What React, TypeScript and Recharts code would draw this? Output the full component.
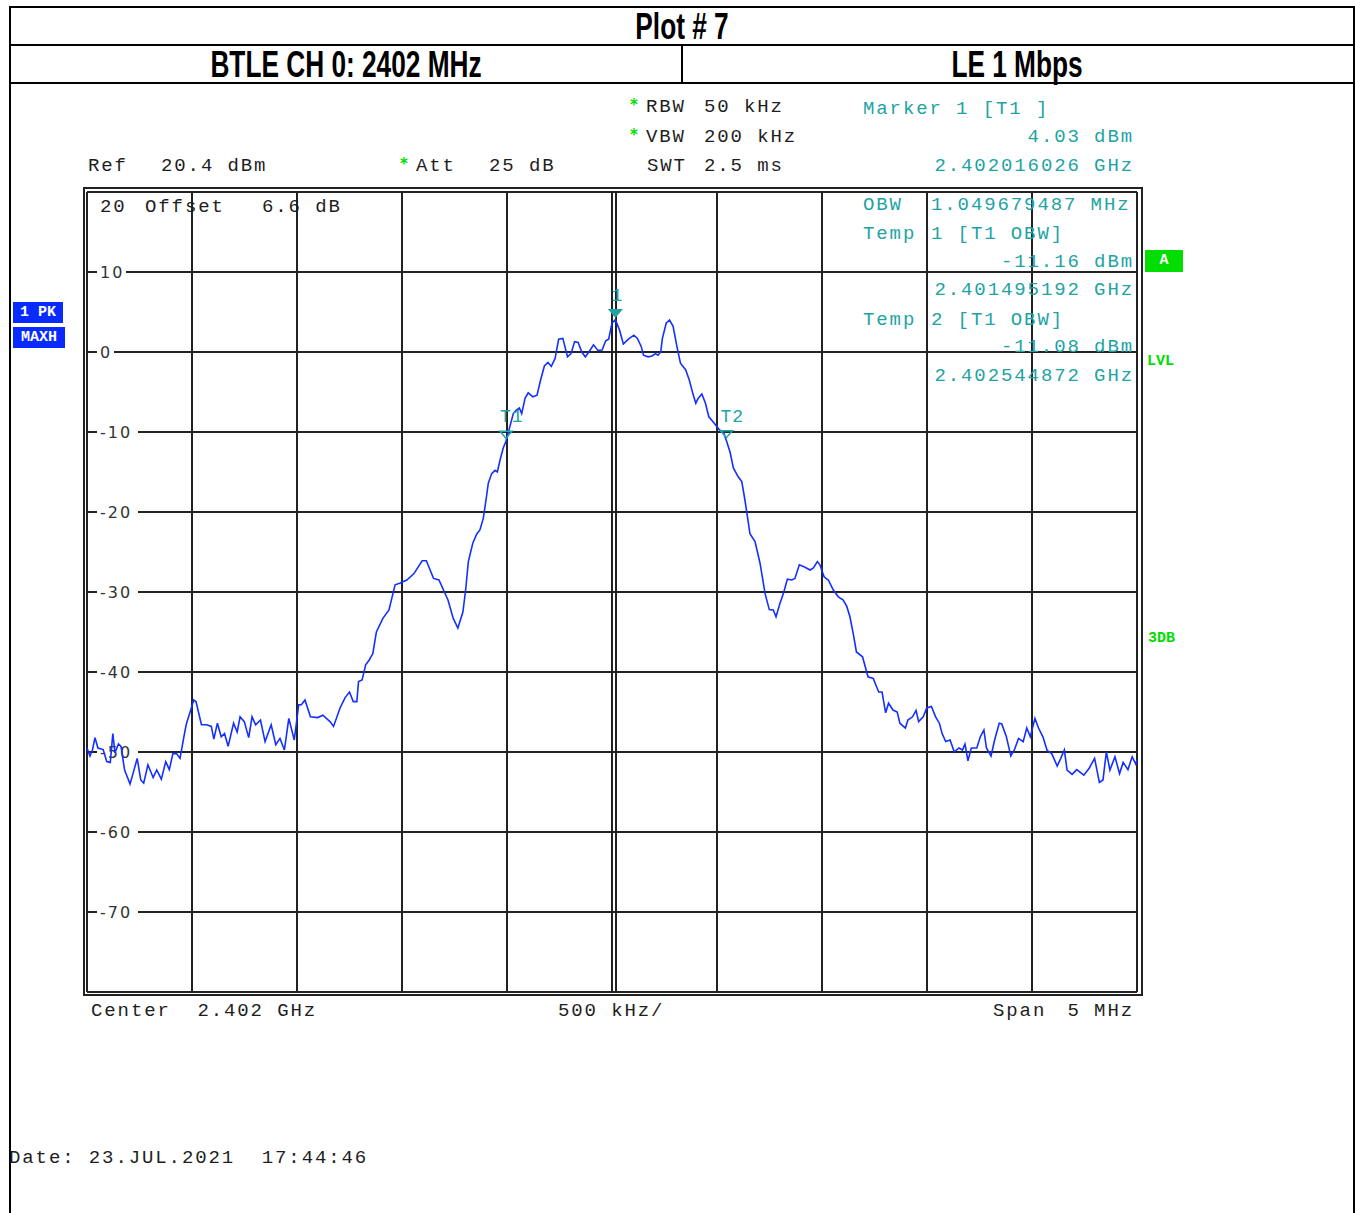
import React from "react";
import { LineChart, Line, XAxis, YAxis, CartesianGrid, ReferenceDot } from "recharts";

// sweep: start frequency and span (MHz)
const START_MHZ = 2399.5;
const STOP_MHZ = 2404.5;

// trace points: offset from start (kHz) and level (dBm)
const OFFSET_KHZ = [
  0, 14, 26, 38, 52, 77, 94, 111, 123, 133,
  150, 162, 179, 205, 219, 239, 256, 270, 290, 315,
  332, 354, 375, 392, 409, 426, 443, 460, 473, 494,
  508, 519, 545, 570, 592, 604, 621, 639, 655, 672,
  698, 715, 729, 749, 770, 786, 803, 826, 848, 877,
  899, 919, 940, 961, 987, 1008, 1021, 1038, 1064, 1098,
  1123, 1157, 1174, 1205, 1229, 1250, 1268, 1285, 1293, 1310,
  1327, 1344, 1361, 1378, 1409, 1438, 1467, 1489, 1523, 1557,
  1596, 1616, 1650, 1676, 1719, 1744, 1766, 1790, 1803, 1816,
  1837, 1856, 1871, 1887, 1900, 1911, 1927, 1943, 1954, 1967,
  1982, 1995, 2014, 2030, 2043, 2059, 2070, 2086, 2101, 2123,
  2143, 2160, 2178, 2195, 2211, 2229, 2246, 2266, 2288, 2305,
  2322, 2339, 2356, 2373, 2390, 2412, 2433, 2453, 2470, 2484,
  2500, 2516, 2536, 2554, 2578, 2604, 2621, 2639, 2650, 2672,
  2690, 2707, 2719, 2732, 2740, 2758, 2774, 2791, 2809, 2826,
  2851, 2868, 2885, 2899, 2910, 2928, 2945, 2961, 2987, 3012,
  3030, 3045, 3062, 3078, 3101, 3118, 3133, 3157, 3181, 3205,
  3229, 3249, 3268, 3281, 3300, 3316, 3335, 3356, 3371, 3392,
  3419, 3443, 3459, 3478, 3490, 3510, 3530, 3554, 3578, 3601,
  3618, 3633, 3650, 3664, 3693, 3719, 3744, 3770, 3786, 3803,
  3817, 3838, 3858, 3871, 3897, 3909, 3931, 3948, 3960, 3982,
  3999, 4021, 4041, 4059, 4072, 4089, 4110, 4130, 4152, 4169,
  4181, 4195, 4211, 4237, 4254, 4271, 4283, 4305, 4322, 4344,
  4356, 4378, 4399, 4416, 4436, 4458, 4475, 4492, 4514, 4531,
  4552, 4572, 4594, 4620, 4637, 4654, 4667, 4691, 4713, 4747,
  4773, 4798, 4821, 4838, 4854, 4871, 4895, 4917, 4934, 4957,
  4977, 4994, 5000,
];

const LEVEL_DBM = [
  -49.5, -50.5, -49.75, -48.2, -49.5, -49.7, -51.2, -51.3, -47.7, -50.1,
  -49, -49.3, -52.25, -54, -52.7, -50.8, -53.5, -53.9, -51.6, -53.2,
  -52.25, -53.4, -51.2, -52.2, -50.2, -50.2, -50.8, -48.3, -46.5, -44.75,
  -43.5, -43.7, -46.6, -46.6, -46.8, -48.4, -46.4, -48.1, -47.7, -49.3,
  -46.4, -47.5, -45.6, -46.2, -48.2, -45.6, -46.6, -46, -48.7, -46.6,
  -49.1, -48.3, -49.75, -45.8, -48.5, -44.1, -44.1, -43.5, -45.6, -45.7,
  -45.4, -46.2, -46.8, -44.5, -43.2, -42.5, -43.7, -43.7, -41.2, -41,
  -39.1, -38.5, -37.7, -35, -33.3, -32.25, -29.1, -28.9, -28.5, -27.7,
  -26.1, -26.1, -28.3, -28.5, -31, -33.3, -34.5, -32.5, -29.75, -26.2,
  -23.9, -22.75, -22.25, -20.8, -18.5, -16.4, -15.2, -14.8, -15, -13.5,
  -12, -11.16, -9.3, -7.7, -7.3, -7, -7.7, -5.8, -5.1, -5.6,
  -5.4, -3.5, -1.75, -1.3, -1.8, -0.8, 1.6, 1.7, -0.6, -0.2,
  1.3, 1.2, 0, -0.6, 0, 0.9, 0.2, 0.25, 1.4, 1.6,
  3.6, 4.03, 2.75, 1, 1.6, 2.1, 1.7, 0.7, -0.4, -0.6,
  -0.5, -0.2, -0.4, 0, 1.7, 3.6, 4, 3.2, 0.7, -1.4,
  -2.25, -3.5, -5.2, -6.4, -5.8, -5.25, -6.4, -8.1, -8.9, -9.75,
  -9.96, -11.08, -12.5, -14.5, -15.6, -16.2, -18.5, -22.7, -23.7, -26.4,
  -30.2, -32.2, -32.25, -33.1, -31.4, -30.2, -28.4, -28.5, -28.3, -26.6,
  -26.9, -27.25, -27, -26.2, -26.6, -28.1, -28.5, -29.75, -30.6, -31,
  -31.8, -33.1, -35.4, -37.5, -38.1, -40.6, -40.8, -42.5, -42.5, -45.1,
  -43.9, -44.75, -45, -46.4, -47, -46, -45.6, -44.8, -46.2, -45.6,
  -44.5, -44.3, -45.6, -46.4, -47.7, -48.7, -48.5, -50, -49.5, -49.75,
  -49, -51.1, -49.5, -49.5, -48.1, -47.25, -49.5, -50.5, -48.5, -46.4,
  -46.5, -48.1, -50.5, -49.75, -48.3, -48.7, -47, -48.1, -45.8, -47,
  -48.1, -49.8, -50.2, -51.75, -50.8, -49.75, -52.25, -52.8, -52.2, -52.9,
  -52, -50.8, -53.8, -53.5, -50, -52.25, -50.6, -52.7, -51.3, -52.2,
  -50.6, -51.5, -51,
];

const FREQ_TICKS_MHZ = [2399.5, 2400, 2400.5, 2401, 2401.5, 2402, 2402.5, 2403, 2403.5, 2404, 2404.5];
const LEVEL_TICKS_DBM = [20, 10, 0, -10, -20, -30, -40, -50, -60, -70, -80];

const MARKER_NAMES = ["1", "T1", "T2"];
const MARKER_FREQ_MHZ = [2402.016026, 2401.495192, 2402.544872];
const MARKER_LEVEL_DBM = [4.03, -11.16, -11.08];

const W = 1355;
const H = 1213;
const PLOT = { left: 87, top: 192, width: 1050, height: 800 };
const Y_MAX = Math.max(...LEVEL_TICKS_DBM);
const Y_MIN = Math.min(...LEVEL_TICKS_DBM);

const INK = "#1e1e1e";
const GRID = "#222";
const TEAL = "#22a3a3";
const GREEN = "#00dd00";
const BLUE = "#0a2bff";
const TRACE = "#1430ff";
const MONO = "'Liberation Mono', 'DejaVu Sans Mono', monospace";

const data = OFFSET_KHZ.map((k, i) => ({ f: START_MHZ + k / 1000, level: LEVEL_DBM[i] }));

function HLine(props: any) {
  const { x1, x2, y1 } = props;
  const value = Math.round(Y_MAX - ((y1 - PLOT.top) / PLOT.height) * (Y_MAX - Y_MIN));
  if (value === Y_MAX || value === Y_MIN) {
    return <line x1={x1} x2={x2} y1={y1} y2={y1} stroke={GRID} strokeWidth={2} />;
  }
  const label = String(value);
  const end = x1 + 13 + label.length * 12 + 2;
  return (
    <g>
      <line x1={x1} x2={x1 + 10} y1={y1} y2={y1} stroke={GRID} strokeWidth={2} />
      <text
        x={x1 + 13}
        y={y1}
        dy="0.36em"
        fontSize={16}
        fontFamily="'DejaVu Sans', sans-serif"
        letterSpacing={2}
        fill="#333"
      >
        {label}
      </text>
      <line x1={end} x2={x2} y1={y1} y2={y1} stroke={GRID} strokeWidth={2} />
    </g>
  );
}

function VLine(props: any) {
  const { x1, y1, y2 } = props;
  const center = PLOT.left + PLOT.width / 2;
  if (Math.abs(x1 - center) < 1) {
    return (
      <g>
        <line x1={x1} x2={x1} y1={y1} y2={y2} stroke={GRID} strokeWidth={2} />
        <line x1={x1 + 4} x2={x1 + 4} y1={y1} y2={y2} stroke={GRID} strokeWidth={2} />
      </g>
    );
  }
  return <line x1={x1} x2={x1} y1={y1} y2={y2} stroke={GRID} strokeWidth={2} />;
}

function MarkerShape({ cx, cy, name }: { cx: number; cy: number; name: string }) {
  const filled = name === "1";
  const tri = `${cx - 6},${cy - 10} ${cx + 6},${cy - 10} ${cx},${cy - 3}`;
  return (
    <g>
      <polygon
        points={tri}
        fill={filled ? TEAL : "none"}
        stroke={TEAL}
        strokeWidth={1.5}
      />
      <text
        x={filled ? cx + 2 : cx - 6}
        y={cy - 19}
        textAnchor={filled ? "middle" : "start"}
        fontFamily={MONO}
        fontSize={18}
        letterSpacing={1}
        fill={TEAL}
      >
        {name}
      </text>
    </g>
  );
}

type TxtProps = {
  x: number;
  y: number;
  color?: string;
  align?: "left" | "right";
  children: React.ReactNode;
};

function Txt({ x, y, color = INK, align = "left", children }: TxtProps) {
  const style: React.CSSProperties = {
    position: "absolute",
    top: y - 12,
    height: 24,
    lineHeight: "24px",
    fontFamily: MONO,
    fontSize: 19,
    letterSpacing: "1.9px",
    color,
    whiteSpace: "pre",
  };
  if (align === "right") style.right = W - x - 2;
  else style.left = x;
  return <div style={style}>{children}</div>;
}

function Star({ x, y }: { x: number; y: number }) {
  return (
    <div
      style={{
        position: "absolute",
        left: x,
        top: y - 11,
        fontFamily: "'DejaVu Sans', sans-serif",
        fontWeight: "bold",
        fontSize: 15,
        color: GREEN,
      }}
    >
      *
    </div>
  );
}

function Title({ x, y, children }: { x: number; y: number; children: React.ReactNode }) {
  return (
    <div
      style={{
        position: "absolute",
        left: x,
        top: y,
        transform: "translate(-50%, -50%) scale(0.82, 1.14)",
        fontFamily: "'Liberation Sans', Arial, sans-serif",
        fontWeight: "bold",
        fontSize: 32,
        lineHeight: 1,
        color: "#000",
        whiteSpace: "nowrap",
      }}
    >
      {children}
    </div>
  );
}

function Badge({ x, y, w, h, bg, children }: { x: number; y: number; w: number; h: number; bg: string; children: React.ReactNode }) {
  return (
    <div
      style={{
        position: "absolute",
        left: x,
        top: y,
        width: w,
        height: h,
        background: bg,
        color: "#fff",
        fontFamily: MONO,
        fontWeight: "bold",
        fontSize: 15,
        lineHeight: `${h}px`,
        textAlign: "center",
        whiteSpace: "pre",
      }}
    >
      {children}
    </div>
  );
}

function Rule({ x, y, w, h }: { x: number; y: number; w: number; h: number }) {
  return <div style={{ position: "absolute", left: x, top: y, width: w, height: h, background: "#000" }} />;
}

export default function App() {
  return (
    <div
      style={{
        position: "absolute",
        left: 0,
        top: 0,
        width: W,
        height: H,
        background: "#fff",
        overflow: "hidden",
      }}
    >
      {/* page frame and title rows */}
      <Rule x={9} y={6} w={1346} h={2} />
      <Rule x={9} y={44} w={1346} h={2} />
      <Rule x={9} y={82} w={1346} h={2} />
      <Rule x={9} y={6} w={2} h={H} />
      <Rule x={1353} y={6} w={2} h={H} />
      <Rule x={681} y={44} w={2} h={39} />
      <Title x={682} y={26}>Plot # 7</Title>
      <Title x={346} y={64}>BTLE CH 0: 2402 MHz</Title>
      <Title x={1017} y={64}>LE 1 Mbps</Title>

      {/* outer frame of the diagram */}
      <div
        style={{
          position: "absolute",
          left: 83,
          top: 187,
          width: 1056,
          height: 805,
          border: `2px solid ${GRID}`,
        }}
      />

      <div style={{ position: "absolute", left: 0, top: 0 }}>
        <LineChart
          width={W}
          height={H}
          data={data}
          margin={{
            top: PLOT.top,
            left: PLOT.left,
            right: W - PLOT.left - PLOT.width,
            bottom: H - PLOT.top - PLOT.height,
          }}
        >
          <XAxis
            type="number"
            dataKey="f"
            domain={[START_MHZ, STOP_MHZ]}
            ticks={FREQ_TICKS_MHZ}
            hide
          />
          <YAxis
            type="number"
            domain={[Y_MIN, Y_MAX]}
            ticks={LEVEL_TICKS_DBM}
            hide
          />
          <CartesianGrid horizontal={HLine} vertical={VLine} />
          <Line
            type="linear"
            dataKey="level"
            stroke={TRACE}
            strokeWidth={1.6}
            dot={false}
            isAnimationActive={false}
          />
          {MARKER_NAMES.map((name, i) => (
            <ReferenceDot
              key={name}
              x={MARKER_FREQ_MHZ[i]}
              y={MARKER_LEVEL_DBM[i]}
              r={0}
              shape={(p: any) => <MarkerShape cx={p.cx} cy={p.cy} name={name} />}
            />
          ))}
        </LineChart>
      </div>

      {/* instrument settings */}
      <Star x={630} y={107} />
      <Txt x={646} y={107}>RBW</Txt>
      <Txt x={704} y={107}>50 kHz</Txt>
      <Star x={630} y={137} />
      <Txt x={646} y={137}>VBW</Txt>
      <Txt x={704} y={137}>200 kHz</Txt>
      <Txt x={647} y={166}>SWT</Txt>
      <Txt x={704} y={166}>2.5 ms</Txt>
      <Txt x={88} y={166}>Ref</Txt>
      <Txt x={161} y={166}>20.4 dBm</Txt>
      <Star x={400} y={166} />
      <Txt x={416} y={166}>Att</Txt>
      <Txt x={489} y={166}>25 dB</Txt>
      <Txt x={100} y={207}>20</Txt>
      <Txt x={145} y={207}>Offset</Txt>
      <Txt x={262} y={207}>6.6 dB</Txt>

      {/* marker readout */}
      <Txt x={863} y={109} color={TEAL}>Marker 1 [T1 ]</Txt>
      <Txt x={1132} y={137} color={TEAL} align="right">4.03 dBm</Txt>
      <Txt x={1132} y={166} color={TEAL} align="right">2.402016026 GHz</Txt>
      <Txt x={863} y={205} color={TEAL}>OBW</Txt>
      <Txt x={931} y={205} color={TEAL}>1.049679487 MHz</Txt>
      <Txt x={863} y={234} color={TEAL}>Temp</Txt>
      <Txt x={931} y={234} color={TEAL}>1 [T1 OBW]</Txt>
      <Txt x={1132} y={262} color={TEAL} align="right">-11.16 dBm</Txt>
      <Txt x={1132} y={290} color={TEAL} align="right">2.401495192 GHz</Txt>
      <Txt x={863} y={320} color={TEAL}>Temp</Txt>
      <Txt x={931} y={320} color={TEAL}>2 [T1 OBW]</Txt>
      <Txt x={1132} y={347} color={TEAL} align="right">-11.08 dBm</Txt>
      <Txt x={1132} y={376} color={TEAL} align="right">2.402544872 GHz</Txt>

      {/* side flags */}
      <Badge x={13} y={302} w={50} h={21} bg={BLUE}>1 PK</Badge>
      <Badge x={13} y={327} w={52} h={21} bg={BLUE}>MAXH</Badge>
      <Badge x={1145} y={250} w={38} h={22} bg={GREEN}>A</Badge>
      <div style={{ position: "absolute", left: 1147, top: 353, fontFamily: MONO, fontWeight: "bold", fontSize: 15, color: GREEN }}>LVL</div>
      <div style={{ position: "absolute", left: 1148, top: 630, fontFamily: MONO, fontWeight: "bold", fontSize: 15, color: GREEN }}>3DB</div>

      {/* footer */}
      <Txt x={91} y={1011}>Center  2.402 GHz</Txt>
      <Txt x={558} y={1011}>500 kHz/</Txt>
      <Txt x={993} y={1011}>Span</Txt>
      <Txt x={1132} y={1011} align="right">5 MHz</Txt>
      <Txt x={9} y={1158}>Date: 23.JUL.2021  17:44:46</Txt>
    </div>
  );
}
